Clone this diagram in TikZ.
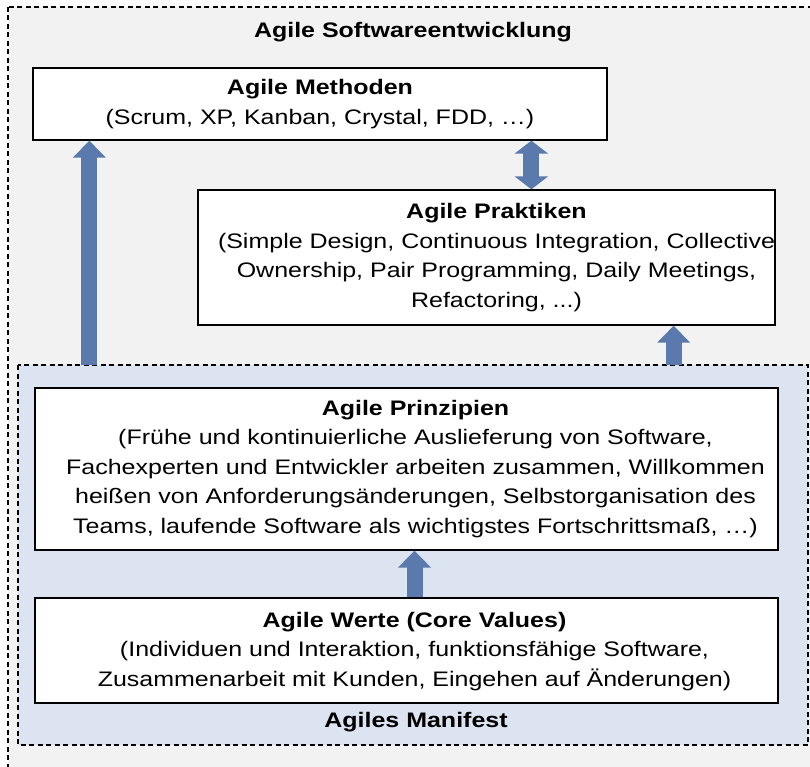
\documentclass[tikz,border=0pt]{standalone}
\usepackage{fontspec}
\setmainfont{Liberation Sans}[FakeStretch=1.19]
\usetikzlibrary{arrows.meta,calc}
\definecolor{arrowblue}{HTML}{5A79AD}
\definecolor{manifestblue}{HTML}{DCE3F1}
\definecolor{bggray}{HTML}{F2F2F2}
\tikzset{
  levelbox/.style={draw=black,line width=1.3pt,fill=white,align=center,inner sep=0pt},
  leveltext/.style={align=center,inner sep=0pt},
  areaframe/.style={draw=black,line width=1.3pt,dash pattern=on 5pt off 3.5pt},
  bigarrow/.style={draw=arrowblue,line width=16pt,-{Triangle[length=17pt,width=32pt]}},
  dblarrow/.style={draw=arrowblue,line width=16pt,{Triangle[length=13pt,width=33pt]}-{Triangle[length=13pt,width=33pt]}}
}

\begin{document}
\begin{tikzpicture}[x=1pt,y=-1pt,font=\fontsize{21}{29.5}\selectfont]
\useasboundingbox (0,0) rectangle (810,767);
\clip (0,0) rectangle (810,767);
% --- outer area and the manifest area
\draw[areaframe,fill=bggray] (8,7) rectangle (830,790);
\node[font=\fontsize{21}{29.5}\selectfont\bfseries] (titel) at (413,32) {Agile Softwareentwicklung};
\draw[areaframe,fill=manifestblue] (18,365) rectangle (808,745);
\coordinate (manifest) at (413,365);
\node[font=\fontsize{21}{29.5}\selectfont\bfseries] (manifestlabel) at (416,722) {Agiles Manifest};
% --- the four levels
\node[levelbox,minimum width=574,minimum height=72] (methoden) at (320,104)
  {\textbf{Agile Methoden}\\(Scrum, XP, Kanban, Crystal, FDD, …)};
\node[levelbox,minimum width=577,minimum height=135] (praktiken) at (486.5,257.5) {};
\node[leveltext] (praktikentext) at ([xshift=10]praktiken.center)
  {\textbf{Agile Praktiken}\\(Simple Design, Continuous Integration, Collective\\Ownership, Pair Programming, Daily Meetings,\\Refactoring, ...)};
\node[levelbox,minimum width=743,minimum height=162] (prinzipien) at (406.5,469) {};
\node[leveltext] (prinzipientext) at ([xshift=9]prinzipien.center)
  {\textbf{Agile Prinzipien}\\(Frühe und kontinuierliche Auslieferung von Software,\\Fachexperten und Entwickler arbeiten zusammen, Willkommen\\heißen von Anforderungsänderungen, Selbstorganisation des\\Teams, laufende Software als wichtigstes Fortschrittsmaß, …)};
\node[levelbox,minimum width=743,minimum height=105] (werte) at (406.5,650.5) {};
\node[leveltext] (wertetext) at ([xshift=8,yshift=-1]werte.center)
  {\textbf{Agile Werte (Core Values)}\\(Individuen und Interaktion, funktionsfähige Software,\\Zusammenarbeit mit Kunden, Eingehen auf Änderungen)};
% --- block arrows between the levels
\draw[bigarrow] ([xshift=57]methoden.south west |- manifest) -- ([xshift=57]methoden.south west);
\draw[dblarrow] ([xshift=499]methoden.south west) -- ([xshift=499]methoden.south west |- praktiken.north);
\draw[bigarrow] ([xshift=-102]praktiken.south east |- manifest) -- ([xshift=-102]praktiken.south east);
\draw[bigarrow] ([xshift=8]werte.north) -- ([xshift=8]prinzipien.south);
\end{tikzpicture}
\end{document}
